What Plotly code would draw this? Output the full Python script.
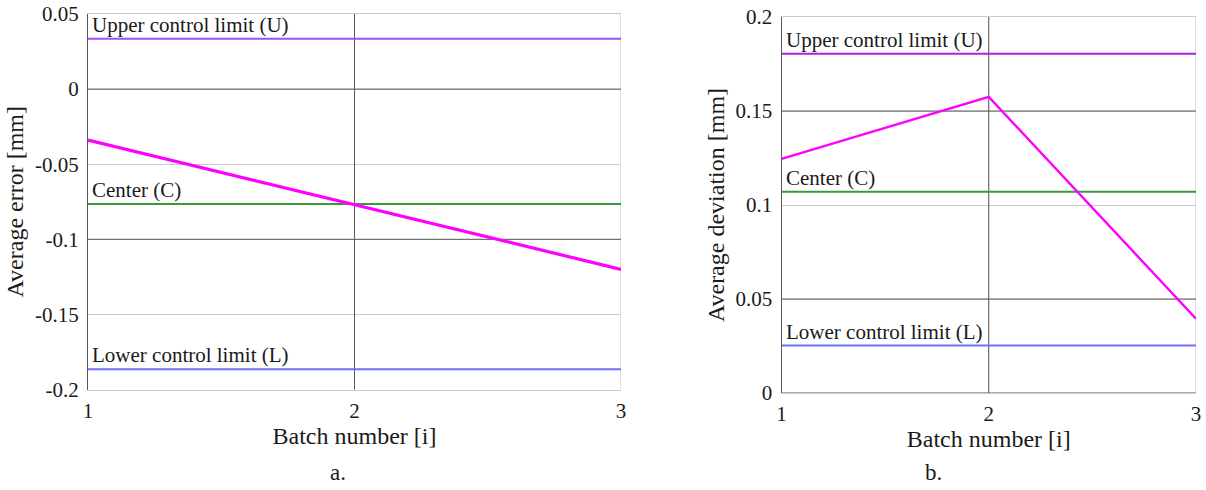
import plotly.graph_objects as go

# ---- data ----
batches = [1, 2, 3]
avg_error = [-0.034, -0.077, -0.120]          # panel a
avg_deviation = [0.1245, 0.1575, 0.0395]      # panel b

ucl_a, cl_a, lcl_a = 0.0335, -0.0765, -0.1865
ucl_b, cl_b, lcl_b = 0.1805, 0.107, 0.0252

yrange_a = [-0.2, 0.05]
yrange_b = [0, 0.2]
yticks_a = [0.05, 0, -0.05, -0.1, -0.15, -0.2]
yticklabels_a = ["0.05", "0", "-0.05", "-0.1", "-0.15", "-0.2"]
yticks_b = [0.2, 0.15, 0.1, 0.05, 0]
yticklabels_b = ["0.2", "0.15", "0.1", "0.05", "0"]
xticks = [1, 2, 3]
xticklabels = ["1", "2", "3"]

dark_a = [0, -0.1]
dark_b = [0.15, 0.05, 0]

FONT = "Liberation Serif"
TXT = "#1a1a1a"
LIGHT = "#cbcbcb"
DARK = "#5a5a5a"
C_U_A = "#a04cf0"
C_U_B = "#b01ee6"
C_C = "#3a9a3a"
C_L = "#6f6ff8"
C_M = "#ff00ff"

fig = go.Figure()

def line(xa, ya, x, y, col, w):
    fig.add_trace(go.Scatter(x=x, y=y, mode="lines", line=dict(color=col, width=w),
                             xaxis=xa, yaxis=ya, showlegend=False, hoverinfo="skip"))

# frame / darker grid lines (drawn first, under the data)
for xa, ya, darks, yr in [("x", "y", dark_a, yrange_a), ("x2", "y2", dark_b, yrange_b)]:
    line(xa, ya, [batches[-1], batches[-1]], yr, LIGHT, 1.2)
    for v in darks:
        line(xa, ya, [batches[0], batches[-1]], [v, v], DARK, 1)
    line(xa, ya, [batches[1], batches[1]], yr, DARK, 1)

for xa, ya, vals, cols in [("x", "y", [ucl_a, cl_a, lcl_a], [C_U_A, C_C, C_L]),
                           ("x2", "y2", [ucl_b, cl_b, lcl_b], [C_U_B, C_C, C_L])]:
    for v, c in zip(vals, cols):
        line(xa, ya, [batches[0], batches[-1]], [v, v], c, 2)

line("x", "y", batches, avg_error, C_M, 3.2)
line("x2", "y2", batches, avg_deviation, C_M, 2.4)

tickfont = dict(family=FONT, size=21, color=TXT)
titlefont = dict(family=FONT, size=24, color=TXT)

def xax(domain, anchor):
    return dict(domain=domain, anchor=anchor, range=[1, 3], tickvals=xticks, ticktext=xticklabels,
                showgrid=True, gridcolor=LIGHT, gridwidth=1, zeroline=False,
                showline=True, mirror=True, linecolor=LIGHT, linewidth=1.2, layer="below traces",
                ticks="", tickfont=tickfont, automargin=False, ticklabelstandoff=2,
                ticklabeloverflow="allow",
                title=dict(text="Batch number [i]", font=titlefont, standoff=2))

def yax(domain, anchor, rng, tv, tt, title):
    return dict(domain=domain, anchor=anchor, range=rng, tickvals=tv, ticktext=tt,
                showgrid=True, gridcolor=LIGHT, gridwidth=1, zeroline=False,
                showline=True, linecolor=DARK, linewidth=1,
                ticks="", tickfont=tickfont, automargin=False, ticklabelstandoff=4,
                ticklabeloverflow="allow",
                title=dict(text=title, font=titlefont, standoff=4))

# body margin is removed by the post script, so paper pixels == window pixels
PW = 1206.0
PH = 490.0

def px(sx):
    return sx / PW

def py(sy):
    return (PH - sy) / PH

fig.update_layout(
    width=int(PW), height=int(PH),
    margin=dict(l=0, r=0, t=0, b=0),
    paper_bgcolor="white", plot_bgcolor="white",
    xaxis=xax([px(88), px(621)], "y"),
    yaxis=yax([py(389.5), py(14)], "x", yrange_a, yticks_a, yticklabels_a, "Average error [mm]"),
    xaxis2=xax([px(781.5), px(1196)], "y2"),
    yaxis2=yax([py(393), py(17)], "x2", yrange_b, yticks_b, yticklabels_b, "Average deviation [mm]"),
    showlegend=False,
)

ann = []
labels = ["Upper control limit (U)", "Center (C)", "Lower control limit (L)"]
for xr, yr, vals in [("x", "y", [ucl_a, cl_a, lcl_a]), ("x2", "y2", [ucl_b, cl_b, lcl_b])]:
    for lab, v in zip(labels, vals):
        ann.append(dict(text=lab, x=batches[0], y=v, xref=xr, yref=yr, xanchor="left", yanchor="bottom",
                        xshift=2, yshift=0, showarrow=False, font=dict(family=FONT, size=21, color=TXT)))
ann.append(dict(text="a.", x=px(338), y=py(472), xref="paper", yref="paper", xanchor="center", yanchor="middle",
                showarrow=False, font=dict(family=FONT, size=23, color=TXT)))
ann.append(dict(text="b.", x=px(933), y=py(472), xref="paper", yref="paper", xanchor="center", yanchor="middle",
                showarrow=False, font=dict(family=FONT, size=23, color=TXT)))
fig.update_layout(annotations=ann)

fig.write_html("out.html", config={"displayModeBar": False},
               post_script="document.body.style.margin='0';document.body.style.overflow='hidden';")
